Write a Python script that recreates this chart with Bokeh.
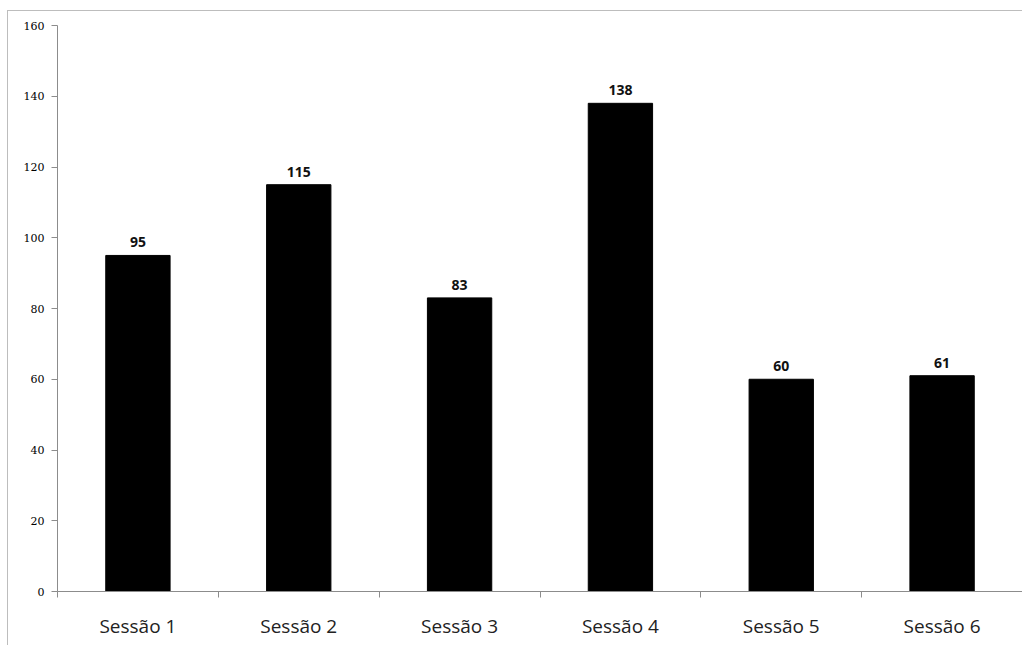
from bokeh.plotting import figure
from bokeh.models import FixedTicker, Range1d, ColumnDataSource, LinearAxis
from bokeh.core.properties import value
from bokeh.embed import file_html
from bokeh.resources import INLINE

categories = ["Sessão 1", "Sessão 2", "Sessão 3", "Sessão 4", "Sessão 5", "Sessão 6"]
counts = [95, 115, 83, 138, 60, 61]
y_ticks = [0, 20, 40, 60, 80, 100, 120, 140, 160]

xs = [i + 0.5 for i in range(len(categories))]
src = ColumnDataSource(dict(x=xs, y=counts, lab=[str(v) for v in counts]))

p = figure(width=1015, height=635, output_backend="svg", toolbar_location=None,
           x_range=Range1d(0, len(categories)), y_range=Range1d(0, 160),
           x_axis_type=None, y_axis_type=None,
           min_border_left=49, min_border_top=14, min_border_bottom=55, min_border_right=1)
p.margin = (10, 0, 0, 7)
p.styles = {"border-left": "1px solid #bdbdbd", "border-top": "1px solid #bdbdbd"}
p.outline_line_color = None
p.xgrid.visible = False
p.ygrid.visible = False
p.background_fill_color = "white"
p.border_fill_color = "white"

p.vbar(x="x", top="y", width=0.4, bottom=0, source=src, fill_color="black", line_color="black")
p.text(x="x", y="y", text="lab", source=src, y_offset=-8, text_align="center",
       text_baseline="bottom", text_font=value("Open Sans"), text_font_style="bold",
       text_font_size="14px", text_color="#111111")

yaxis = LinearAxis(ticker=FixedTicker(ticks=y_ticks))
yaxis.axis_line_color = "#8c8c8c"
yaxis.major_tick_line_color = "#8c8c8c"
yaxis.major_tick_out = 6
yaxis.major_tick_in = 0
yaxis.minor_tick_line_color = None
yaxis.major_label_standoff = 7
yaxis.major_label_text_font = "DejaVu Serif"
yaxis.major_label_text_font_size = "11px"
yaxis.major_label_text_color = "#000000"
p.add_layout(yaxis, "left")

xaxis = LinearAxis(ticker=FixedTicker(ticks=xs, minor_ticks=list(range(len(categories) + 1))))
xaxis.major_label_overrides = {x: c for x, c in zip(xs, categories)}
xaxis.axis_line_color = "#8c8c8c"
xaxis.major_tick_line_color = None
xaxis.major_tick_out = 0
xaxis.major_tick_in = 0
xaxis.minor_tick_line_color = "#8c8c8c"
xaxis.minor_tick_out = 6
xaxis.minor_tick_in = 0
xaxis.major_label_standoff = 15
xaxis.major_label_text_font = "Open Sans"
xaxis.major_label_text_font_size = "19px"
xaxis.major_label_text_color = "#222222"
p.add_layout(xaxis, "below")

open("out.html", "w").write(file_html(p, INLINE))
